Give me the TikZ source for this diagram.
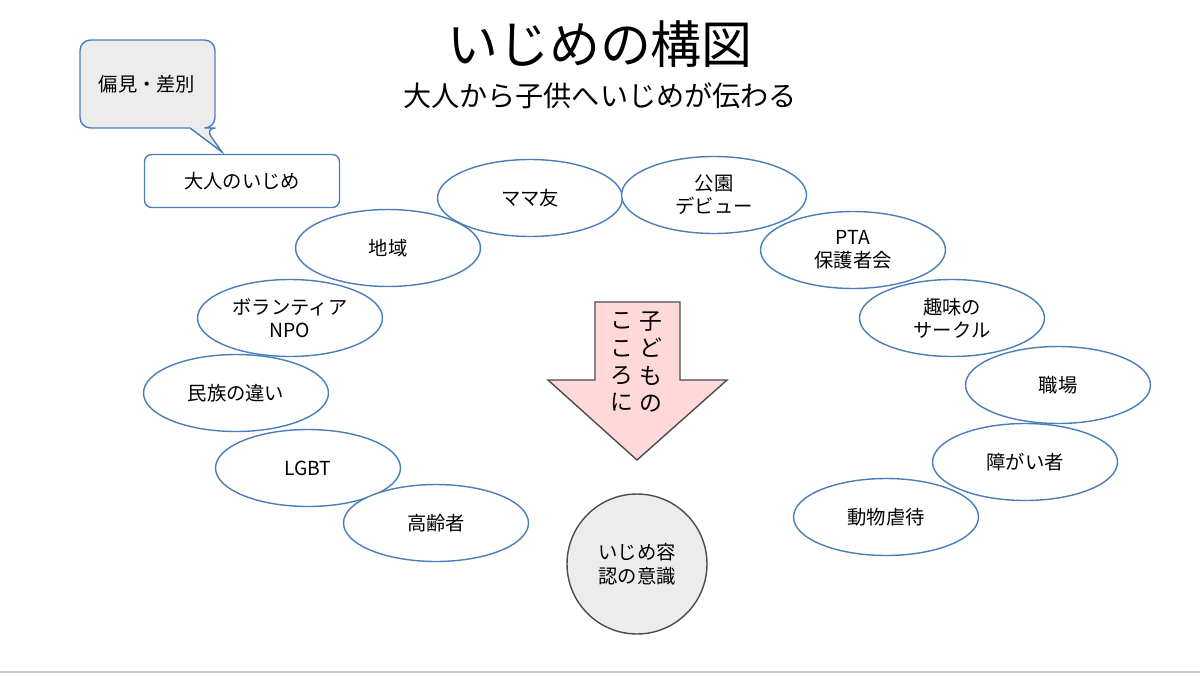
\documentclass[tikz,border=0pt]{standalone}
\usepackage{fontspec}
\setmainfont{Noto Sans CJK JP}
\usetikzlibrary{shapes.geometric}

\definecolor{lineblue}{RGB}{74,126,187}
\tikzset{
  bub/.style={draw=lineblue,thick,fill=white,ellipse,minimum width=3.7cm,minimum height=1.54cm,align=center,font=\fontsize{11}{13}\selectfont},
  box/.style={draw=lineblue,thick,rounded corners=4pt,align=center,font=\fontsize{11}{13}\selectfont}
}

\begin{document}
\begin{tikzpicture}[x=0.02cm,y=-0.02cm]
  \useasboundingbox (0,0) rectangle (1200,676);
  \draw[gray!40,thick] (0,672) -- (1200,672);

  \node (title) at (600,44) {\fontsize{29}{33}\selectfont いじめの構図};
  \node (sub) at (600,96) {\fontsize{16}{19}\selectfont 大人から子供へいじめが伝わる};

  % callout
  \draw[lineblue,thick,fill=gray!15,rounded corners=6pt] (80,40) -- (215,40) -- (215,128) -- (205,128) [sharp corners] -- (222,152) -- (190,128) [rounded corners=6pt] -- (80,128) -- cycle;
  \node[font=\fontsize{11}{13}\selectfont] (bias) at (147,84) {偏見・差別};
  \node[box,minimum width=3.9cm,minimum height=1.06cm] (adult) at (242,181) {大人のいじめ};

  \node[bub] (mama) at (530,198) {ママ友};
  \node[bub] (park) at (714,195) {公園\\デビュー};
  \node[bub] (area) at (388,248) {地域};
  \node[bub] (pta) at (853,250) {PTA\\保護者会};
  \node[bub] (npo) at (290,318) {ボランティア\\NPO};
  \node[bub] (hobby) at (952,318) {趣味の\\サークル};
  \node[bub] (race) at (236,393) {民族の違い};
  \node[bub] (work) at (1058,385) {職場};
  \node[bub] (lgbt) at (308,468) {LGBT};
  \node[bub] (hand) at (1025,462) {障がい者};
  \node[bub] (old) at (436,523) {高齢者};
  \node[bub] (abuse) at (886,517) {動物虐待};

  % arrow
  \draw[fill=red!15,draw=black!70,thick] (595,302) -- (680,302) -- (680,380) -- (727,380) -- (637,460) -- (548,380) -- (595,380) -- cycle;
  \node[font=\fontsize{13}{15.5}\selectfont,align=center] (col1) at (651,362) {子\\ど\\も\\の};
  \node[font=\fontsize{13}{15.5}\selectfont,align=center] (col2) at (622,362) {こ\\こ\\ろ\\に};

  \node[circle,draw=black!70,thick,fill=gray!15,minimum size=2.8cm,align=center,font=\fontsize{11}{14}\selectfont] (mind) at (637,564) {いじめ容\\認の意識};
\end{tikzpicture}
\end{document}
